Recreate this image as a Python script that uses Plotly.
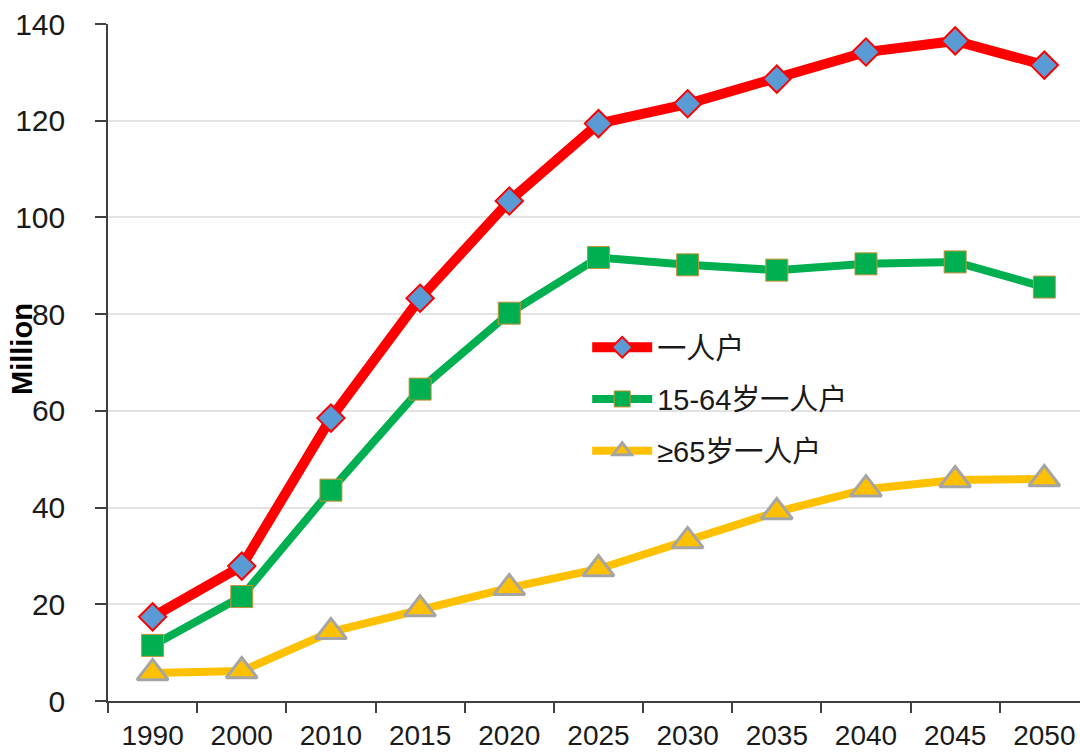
import plotly.graph_objects as go

# Categories and series (million households)
years = ["1990", "2000", "2010", "2015", "2020", "2025", "2030", "2035", "2040", "2045", "2050"]
single_all = [17.4, 27.9, 58.5, 83.3, 103.4, 119.4, 123.5, 128.6, 134.2, 136.5, 131.5]
single_15_64 = [11.5, 21.6, 43.6, 64.5, 80.2, 91.7, 90.2, 89.1, 90.4, 90.8, 85.6]
single_65plus = [5.8, 6.2, 14.3, 19.0, 23.4, 27.3, 33.1, 39.1, 43.8, 45.7, 45.9]

series_names = ["一人户", "15-64岁一人户", "≥65岁一人户"]
y_ticks = [0, 20, 40, 60, 80, 100, 120, 140]

FONT = "Arial, 'Liberation Sans', 'Noto Sans CJK SC', sans-serif"
TEXT = "#1a1a1a"

fig = go.Figure()

fig.add_trace(go.Scatter(
    x=years, y=single_all, name=series_names[0], mode="lines+markers",
    legendgroup="a",
    line=dict(color="#FF0000", width=10),
    marker=dict(symbol="diamond", size=21, color="#5B9BD5",
                line=dict(color="#FF0000", width=2)),
))
fig.add_trace(go.Scatter(
    x=years, y=single_15_64, name=series_names[1], mode="lines+markers",
    legendgroup="b",
    line=dict(color="#00B050", width=8),
    marker=dict(symbol="square", size=22, color="#00B050",
                line=dict(color="#C8913A", width=1)),
))
fig.add_trace(go.Scatter(
    x=years, y=single_65plus, name=series_names[2], mode="lines+markers",
    legendgroup="c",
    line=dict(color="#FFC000", width=8),
    marker=dict(symbol="triangle-up", size=27, color="#FFC000",
                line=dict(color="#A5A5A5", width=3)),
))

fig.update_layout(
    width=1080, height=754,
    margin=dict(l=108, r=0, t=24, b=53),
    paper_bgcolor="white", plot_bgcolor="white",
    font=dict(family=FONT, color=TEXT, size=30),
    showlegend=True,
    legend=dict(
        x=0.493, y=0.56, xanchor="left", yanchor="top",
        bgcolor="rgba(0,0,0,0)", itemwidth=60,
        font=dict(size=29, color=TEXT),
        tracegroupgap=11,
    ),
    xaxis=dict(
        type="category", range=[-0.5, 10.4], automargin=False,
        tickson="boundaries", ticks="outside", ticklen=10, tickwidth=1.5,
        tickcolor="#404040", showline=True, linecolor="#404040", linewidth=1.5,
        showgrid=False, zeroline=False, fixedrange=True,
        tickfont=dict(size=28, color=TEXT), ticklabelstandoff=9,
    ),
    yaxis=dict(
        range=[0, 140], tickvals=y_ticks, ticks="outside", ticklen=11,
        automargin=False,
        tickwidth=1.5, tickcolor="#404040", showline=True, linecolor="#404040",
        linewidth=1.5, showgrid=True, gridcolor="#e3e3e3", gridwidth=1.5,
        zeroline=False, tickfont=dict(size=30, color=TEXT),
        ticklabelstandoff=24,
    ),
    annotations=[dict(
        text="<b>Million</b>", textangle=-90, xref="paper", yref="paper",
        x=0, y=0.52, xanchor="center", yanchor="middle", xshift=-86,
        showarrow=False, font=dict(size=29, color="#000000"),
    )],
)

fig.write_html("out.html")
